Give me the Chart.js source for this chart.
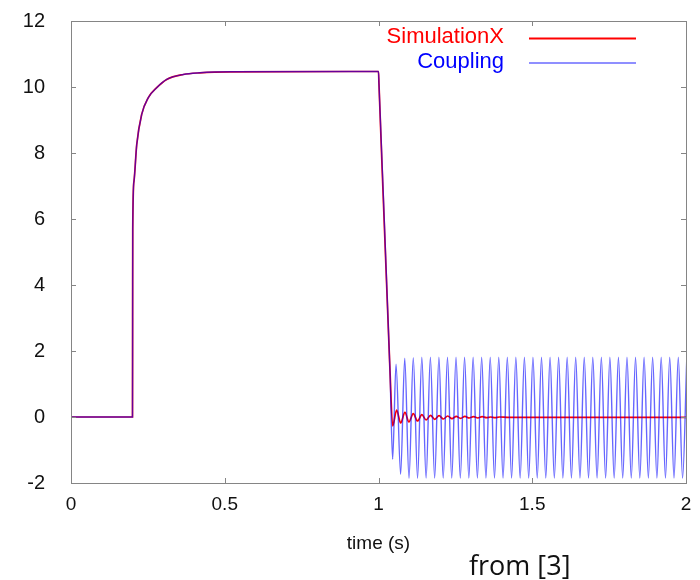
<!DOCTYPE html>
<html>
<head>
<meta charset="utf-8">
<script src="https://cdn.jsdelivr.net/npm/chart.js@4.4.1/dist/chart.umd.min.js"></script>
<style>
  body { margin: 0; background: #fff; }
  canvas { display: block; }
</style>
</head>
<body>
<canvas id="chart" width="700" height="580"></canvas>
<script>
// step response shared by both curves (they overlap until the drop)
const stepTime = [0, 0.2, 0.2004, 0.2008, 0.2049, 0.2137, 0.2299, 0.2514, 0.2787, 0.3112, 0.3652, 0.4195, 0.52, 1.0, 1.0015, 1.0374];
const stepValue = [0, 0, 3.0, 5.7, 7.15, 8.25, 9.17, 9.68, 9.98, 10.23, 10.38, 10.43, 10.46, 10.47, 10.1, 1.39];

// SimulationX: damped ringing after the drop (peaks / troughs)
const simTime = [1.046, 1.059, 1.072, 1.086, 1.099, 1.113, 1.127, 1.141, 1.155, 1.169,
  1.183, 1.197, 1.211, 1.225, 1.239, 1.253, 1.267, 1.281, 1.295, 1.309,
  1.323, 1.337, 1.351, 1.365, 1.379, 1.393, 1.42, 2.0];
const simValue = [-0.27, 0.21, -0.18, 0.14, -0.15, 0.10, -0.12, 0.07, -0.09, 0.05,
  -0.07, 0.04, -0.06, 0.03, -0.05, 0.02, -0.04, 0.02, -0.03, 0.01,
  -0.03, 0.01, -0.02, 0.0, -0.02, 0.0, -0.01, -0.01];

// Coupling: sustained oscillation after the drop (peaks / troughs)
const coupTime = [1.046, 1.057, 1.072,
  1.0853, 1.0992, 1.1131, 1.1270, 1.1409, 1.1548, 1.1687, 1.1826, 1.1965, 1.2104,
  1.2243, 1.2382, 1.2521, 1.2660, 1.2799, 1.2938, 1.3077, 1.3216, 1.3355, 1.3494,
  1.3633, 1.3772, 1.3911, 1.4050, 1.4189, 1.4328, 1.4467, 1.4606, 1.4745, 1.4884,
  1.5023, 1.5162, 1.5301, 1.5440, 1.5579, 1.5718, 1.5857, 1.5996, 1.6135, 1.6274,
  1.6413, 1.6552, 1.6691, 1.6830, 1.6969, 1.7108, 1.7247, 1.7386, 1.7525, 1.7664,
  1.7803, 1.7942, 1.8081, 1.8220, 1.8359, 1.8498, 1.8637, 1.8776, 1.8915, 1.9054,
  1.9193, 1.9332, 1.9471, 1.9610, 1.9749, 1.9888, 2.0027];
const coupValue = [-1.28, 1.60, -1.74,
  1.78, -1.86, 1.80, -1.86, 1.81, -1.85, 1.81, -1.85, 1.81, -1.85,
  1.81, -1.85, 1.81, -1.85, 1.81, -1.85, 1.81, -1.85, 1.81, -1.85,
  1.81, -1.85, 1.81, -1.85, 1.81, -1.85, 1.81, -1.85, 1.81, -1.85,
  1.81, -1.85, 1.81, -1.85, 1.81, -1.85, 1.81, -1.85, 1.81, -1.85,
  1.81, -1.85, 1.81, -1.85, 1.81, -1.85, 1.81, -1.85, 1.81, -1.85,
  1.81, -1.85, 1.81, -1.85, 1.81, -1.85, 1.81, -1.85, 1.81, -1.85,
  1.81, -1.85, 1.81, -1.85, 1.81, -1.85, 1.81];

const xTicks = [0, 0.5, 1, 1.5, 2];
const yTicks = [-2, 0, 2, 4, 6, 8, 10, 12];

const FONT = "'Liberation Sans', Arial, sans-serif";

const toPoints = (ts, vs) => ts.map((t, i) => ({ x: t, y: vs[i] }));

// no automatic label overflow padding, the layout padding decides the plot box
const noPad = (s) => {
  s.paddingTop = 0; s.paddingBottom = 0; s.paddingLeft = 0; s.paddingRight = 0;
};

// frame with inward ticks on all four sides
const framePlugin = {
  id: "frame",
  afterDatasetsDraw(chart) {
    const { ctx, chartArea: a, scales: { x, y } } = chart;
    ctx.save();
    ctx.strokeStyle = "#858585";
    ctx.lineWidth = 1;
    ctx.strokeRect(a.left + 0.5, a.top + 0.5, a.right - a.left, a.bottom - a.top);
    ctx.beginPath();
    xTicks.forEach((v) => {
      const px = Math.round(x.getPixelForValue(v)) + 0.5;
      ctx.moveTo(px, a.bottom); ctx.lineTo(px, a.bottom - 5);
      ctx.moveTo(px, a.top); ctx.lineTo(px, a.top + 5);
    });
    yTicks.forEach((v) => {
      const py = Math.round(y.getPixelForValue(v)) + 0.5;
      ctx.moveTo(a.left, py); ctx.lineTo(a.left + 5, py);
      ctx.moveTo(a.right, py); ctx.lineTo(a.right - 5, py);
    });
    ctx.stroke();
    ctx.restore();
  },
};

// gnuplot style key: right aligned label, sample line to its right
const keyPlugin = {
  id: "key",
  afterDraw(chart) {
    const { ctx } = chart;
    ctx.save();
    ctx.font = "22px " + FONT;
    ctx.textAlign = "right";
    ctx.textBaseline = "alphabetic";
    chart.data.datasets.forEach((ds, i) => {
      const base = 43 + i * 24.5;
      ctx.fillStyle = ds.keyText;
      ctx.fillText(ds.label, 504, base);
      ctx.strokeStyle = ds.keyLine;
      ctx.lineWidth = ds.keyWidth;
      ctx.beginPath();
      ctx.moveTo(529, base - 4.5);
      ctx.lineTo(636, base - 4.5);
      ctx.stroke();
    });
    // source note under the plot
    ctx.font = "27px 'Open Sans', Lato, sans-serif";
    ctx.textAlign = "left";
    ctx.fillStyle = "#111";
    ctx.fillText("from [3]", 469, 575);
    ctx.restore();
  },
};

new Chart(document.getElementById("chart"), {
  type: "line",
  data: {
    datasets: [
      {
        label: "SimulationX",
        data: toPoints(stepTime.concat(simTime), stepValue.concat(simValue)),
        borderColor: "#ff0000",
        borderWidth: 1.7,
        keyText: "#ff0000",
        keyLine: "#ff0000",
        keyWidth: 2,
        order: 1,
      },
      {
        label: "Coupling",
        data: toPoints(stepTime.concat(coupTime), stepValue.concat(coupValue)),
        borderColor: "rgba(0, 0, 255, 0.6)",
        borderWidth: 1.4,
        keyText: "#0000ff",
        keyLine: "#6a6aff",
        keyWidth: 1.3,
        order: 0,
      },
    ],
  },
  options: {
    responsive: false,
    animation: false,
    cubicInterpolationMode: "monotone",
    elements: { point: { radius: 0 } },
    layout: { padding: { top: 21, right: 14, left: 0, bottom: 0 } },
    plugins: { legend: { display: false }, tooltip: { enabled: false } },
    scales: {
      x: {
        type: "linear",
        min: 0,
        max: 2,
        afterFit: (s) => { s.height = 97; noPad(s); },
        afterBuildTicks: (s) => { s.ticks = xTicks.map((v) => ({ value: v })); },
        grid: { display: false, drawTicks: false },
        border: { display: false },
        ticks: {
          padding: 10,
          color: "#111",
          font: { family: FONT, size: 19 },
          callback: (v) => String(v),
        },
        title: {
          display: true,
          text: "time (s)",
          color: "#111",
          font: { family: FONT, size: 19 },
          padding: { top: 0, bottom: 25 },
        },
      },
      y: {
        min: -2,
        max: 12,
        afterFit: (s) => { s.width = 71; noPad(s); },
        afterBuildTicks: (s) => { s.ticks = yTicks.map((v) => ({ value: v })); },
        grid: { display: false, drawTicks: false },
        border: { display: false },
        ticks: { padding: 26, color: "#111", font: { family: FONT, size: 20 } },
      },
    },
  },
  plugins: [framePlugin, keyPlugin],
});
</script>
</body>
</html>
